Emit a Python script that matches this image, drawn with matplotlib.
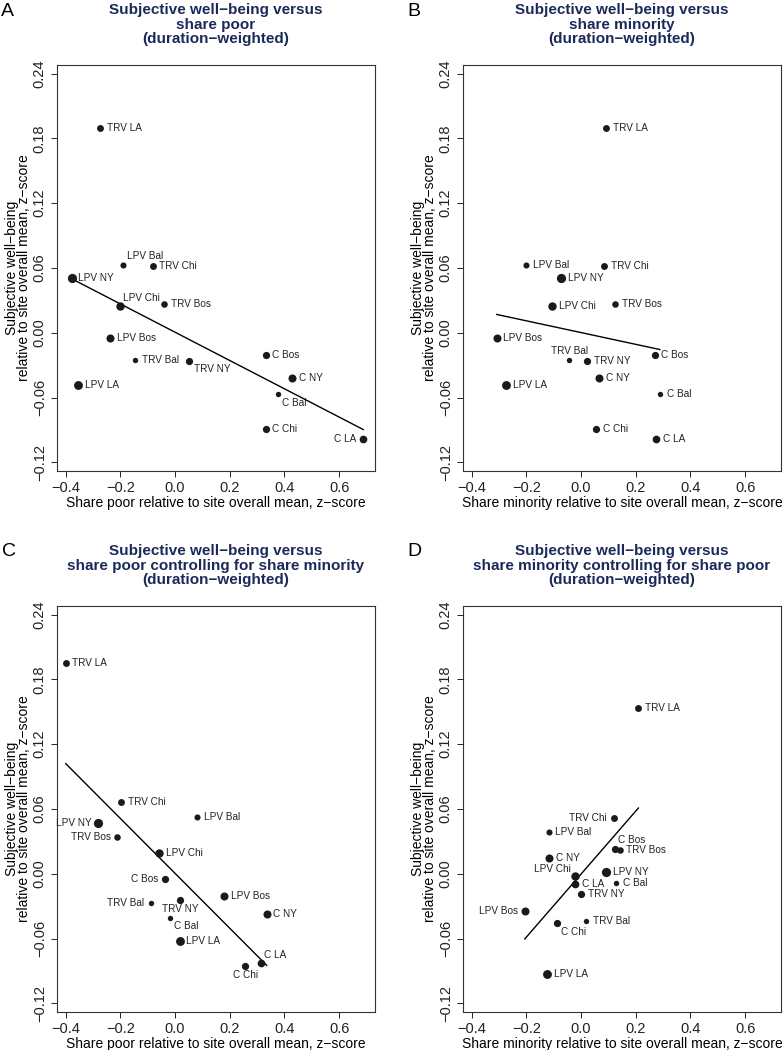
import matplotlib.pyplot as plt

plt.rcParams['font.family'] = ['Liberation Sans', 'DejaVu Sans']

# sites, in the same order for every panel
sites = ['TRV LA', 'LPV Bal', 'TRV Chi', 'LPV NY', 'LPV Chi', 'TRV Bos',
         'LPV Bos', 'TRV Bal', 'TRV NY', 'C Bos', 'C NY', 'LPV LA',
         'C Bal', 'C Chi', 'C LA']
weight = [6.0, 5.3, 6.0, 8.0, 7.3, 5.7, 7.0, 4.7, 6.3, 6.3, 7.0, 7.7,
          4.7, 6.3, 6.7]

# subjective well-being (A, B)
swb = [0.1895, 0.063, 0.062, 0.0505, 0.0245, 0.027, -0.0044, -0.0248,
       -0.026, -0.0202, -0.0416, -0.048, -0.057, -0.089, -0.0986]
# share poor (A)
poor = [-0.275, -0.189, -0.082, -0.378, -0.203, -0.041, -0.237, -0.146,
        0.052, 0.331, 0.427, -0.354, 0.376, 0.331, 0.688]
# share minority (B)
minority = [0.092, -0.2, 0.084, -0.072, -0.107, 0.124, -0.309, -0.043,
            0.023, 0.269, 0.067, -0.274, 0.288, 0.055, 0.275]

# C: residualised on share minority
poor_c = [-0.4, 0.081, -0.198, -0.282, -0.059, -0.211, 0.18, -0.089,
          0.019, -0.036, 0.335, 0.017, -0.018, 0.257, 0.313]
swb_c = [0.195, 0.0522, 0.0668, 0.0473, 0.019, 0.034, -0.0208, -0.0266,
         -0.0241, -0.005, -0.037, -0.0625, -0.0408, -0.0853, -0.083]

# D: residualised on share poor
minority_d = [0.2095, -0.119, 0.1186, 0.091, -0.0207, 0.1405, -0.206,
              0.019, 0.0, 0.125, -0.118, -0.1236, 0.127, -0.09, -0.022]
swb_d = [0.1536, 0.0386, 0.0513, 0.0019, -0.0016, 0.0219, -0.0347,
         -0.0433, -0.0189, 0.0232, 0.0142, -0.0931, -0.0081, -0.0458,
         -0.0093]

# fitted lines (end points)
fit_a = ([-0.378, 0.688], [0.050, -0.0896])
fit_b = ([-0.309, 0.288], [0.017, -0.0155])
fit_c = ([-0.4, 0.335], [0.102, -0.0848])
fit_d = ([-0.206, 0.2095], [-0.0603, 0.0609])

titles = ['Subjective well\u2212being versus\nshare poor\n(duration\u2212weighted)',
          'Subjective well\u2212being versus\nshare minority\n(duration\u2212weighted)',
          'Subjective well\u2212being versus\nshare poor controlling for share minority\n(duration\u2212weighted)',
          'Subjective well\u2212being versus\nshare minority controlling for share poor\n(duration\u2212weighted)']
xlab_poor = 'Share poor relative to site overall mean, z\u2212score'
xlab_min = 'Share minority relative to site overall mean, z\u2212score'
ylab = 'Subjective well\u2212being\nrelative to site overall mean, z\u2212score'

xticks = [-0.4, -0.2, 0.0, 0.2, 0.4, 0.6]
yticks = [-0.12, -0.06, 0.0, 0.06, 0.12, 0.18, 0.24]

# label placement: offset (points) and alignment
place = {
    'r': ((4.8, 0), 'left'),
    'l': ((-4.8, 0), 'right'),
    'ar': ((2.3, 6.0), 'left'),
    'br': ((3.0, -6.0), 'left'),
    'ac': ((0, 6.5), 'center'),
    'bc': ((0, -6.8), 'center'),
    'al': ((-3.0, 4.5), 'right'),
}
lab_a = {'LPV Bal': 'ar', 'LPV Chi': 'ar', 'TRV NY': 'br', 'C Bal': 'br', 'C LA': 'l'}
lab_b = {'TRV Bal': 'ac'}
lab_c = {'LPV NY': 'l', 'TRV Bos': 'l', 'C Bos': 'l', 'TRV Bal': 'l',
         'TRV NY': 'bc', 'C Bal': 'br', 'C LA': 'ar', 'C Chi': 'bc'}
lab_d = {'TRV Chi': 'l', 'C Bos': 'ar', 'LPV Chi': 'al', 'LPV Bos': 'l', 'C Chi': 'br'}

navy = '#1c2a5a'
ink = '#1a1a1a'

fig = plt.figure(figsize=(7.84, 10.5), dpi=100)
W, H = 784, 1050
rects = [(57, 471), (463, 471), (57, 1012), (463, 1012)]
aw, ah = 318, 406

panels = [
    (poor, swb, fit_a, lab_a, xlab_poor),
    (minority, swb, fit_b, lab_b, xlab_min),
    (poor_c, swb_c, fit_c, lab_c, xlab_poor),
    (minority_d, swb_d, fit_d, lab_d, xlab_min),
]
letters = ['A', 'B', 'C', 'D']
letter_pos = [(1, 3), (407, 3), (2, 543), (407, 543)]

for i, (xs, ys, fit, labs, xlab) in enumerate(panels):
    left, bottom = rects[i]
    ax = fig.add_axes([left / W, 1 - bottom / H, aw / W, ah / H])
    for s, x, y, w in zip(sites, xs, ys, weight):
        ax.plot(x, y, 'o', color=ink, markersize=w * 1.15 / 1.389,
                markeredgewidth=0, zorder=3)
        (dx, dy), ha = place[labs.get(s, 'r')]
        ax.annotate(s, (x, y), xytext=(dx, dy), textcoords='offset points',
                    ha=ha, va='center', fontsize=7.2, color='#222222')
    ax.plot(fit[0], fit[1], color='black', lw=1.0, zorder=2)

    ax.set_xlim(-0.432, 0.731)
    ax.set_ylim(-0.128, 0.248)
    ax.set_xticks(xticks)
    ax.set_xticklabels(['%.1f' % t if t >= 0 else '\u2212%.1f' % -t for t in xticks])
    ax.set_yticks(yticks)
    ax.set_yticklabels(['%.2f' % t if t >= 0 else '\u2212%.2f' % -t for t in yticks],
                       rotation=90, va='center')
    ax.tick_params(direction='out', length=4.3, width=0.7, labelsize=10.5, pad=3.0,
                   colors='#222222')
    for sp in ax.spines.values():
        sp.set_linewidth(0.8)
        sp.set_color('#333333')

    ax.set_xlabel(xlab, fontsize=10, labelpad=0.5)
    ax.set_ylabel(ylab, fontsize=10, labelpad=1.0, linespacing=0.9)
    ax.set_title(titles[i], fontsize=11, fontweight='bold', color=navy,
                 pad=15.5, linespacing=1.08)

    lx, ly = letter_pos[i]
    fig.text(lx / W, 1 - ly / H, letters[i], fontsize=14, ha='left', va='top')

fig.savefig('out.png', dpi=100)
